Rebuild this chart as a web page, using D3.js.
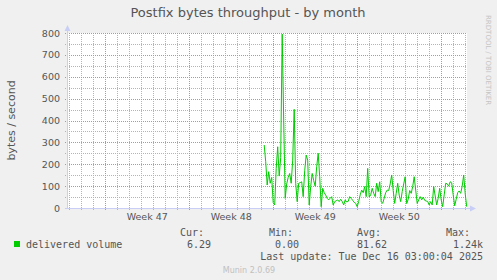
<!DOCTYPE html>
<html>
<head>
<meta charset="utf-8">
<script src="https://cdn.jsdelivr.net/npm/d3@7"></script>
<style>
  body { margin: 0; background: #F0F0F0; }
  svg { display: block; font-family: "DejaVu Sans", sans-serif; }
  .mono { font-family: "DejaVu Sans Mono", monospace; font-size: 10px; fill: #555; }
</style>
</head>
<body>
<div id="chart"></div>
<script>
/* Munin: postfix bytes throughput, month view */

const title = "Postfix bytes throughput - by month";
const yLabel = "bytes / second";

// 3-hour samples starting Nov 30 07:00 UTC
const seriesStart = Date.UTC(2025, 10, 30, 7, 0);
const stepHours = 3;
const delivered = [
  288, 212, 105, 166, 113, 140, 25, 14, 180, 280, 146, 230, 795, 402, 44, 110,
  140, 158, 113, 219, 451, 113, 29, 113, 116, 120, 52, 170, 242, 219, 14, 98,
  158, 125, 100, 189, 250, 143, 6, 90, 70, 59, 44, 37, 45, 52, 14, 29,
  33, 37, 29, 40, 30, 14, 37, 28, 30, 52, 44, 35, 26, 21, 6, 30,
  60, 82, 70, 98, 52, 181, 50, 60, 90, 67, 52, 113, 75, 120, 29, 21,
  45, 70, 82, 80, 110, 151, 80, 21, 67, 113, 59, 29, 75, 110, 143, 20,
  40, 80, 67, 98, 143, 82, 21, 37, 52, 37, 50, 35, 32, 30, 14, 29,
  14, 98, 55, 14, 45, 90, 37, 6, 60, 113, 110, 100, 120, 115, 60, 10,
  40, 70, 78, 67, 100, 151, 67, 6
];

const yMajor = [0, 100, 200, 300, 400, 500, 600, 700, 800];
const yMinor = [50, 150, 250, 350, 450, 550, 650, 750];
const viewStart = new Date(Date.UTC(2025, 10, 13, 20, 36));
const viewEnd = new Date(Date.UTC(2025, 11, 17, 4, 36));
const weekLabels = [Date.UTC(2025, 10, 20, 12), Date.UTC(2025, 10, 27, 12),
                    Date.UTC(2025, 11, 4, 12), Date.UTC(2025, 11, 11, 12)];

const legendName = "delivered volume";
const legendHeads = ["Cur:", "Min:", "Avg:", "Max:"];
const legendVals = ["6.29", "0.00", "81.62", "1.24k"];
const lastUpdate = "Last update: Tue Dec 16 03:00:04 2025";
const footer = "Munin 2.0.69";
const watermark = "RRDTOOL / TOBI OETIKER";

const W = 497, H = 280, M = { l: 67, r: 30, t: 33, b: 72 };
const GREEN = "#00CC00", AXIS = "#C8CEF5", GRID = "#b4b4b4", MGRID = "#e88080", FONT = "#555";

const svg = d3.select("#chart").append("svg").attr("width", W).attr("height", H);
svg.append("rect").attr("width", W).attr("height", H).attr("fill", "#F0F0F0");

const x = d3.scaleUtc().domain([viewStart, viewEnd]).range([M.l, W - M.r]);
const y = d3.scaleLinear().domain([0, 800]).range([H - M.b, M.t]);
const x0 = M.l, x1 = W - M.r, yb = H - M.b, yt = M.t;

svg.append("rect").attr("x", x0).attr("y", yt).attr("width", x1 - x0).attr("height", yb - yt).attr("fill", "#fff");

/* grid: dotted, minor gray per day / 50, major red per week / 100 */
const g = svg.append("g").attr("stroke-dasharray", "1 1").attr("stroke-width", 1);
const days = d3.utcDay.range(viewStart, viewEnd).filter(d => d.getUTCDay() !== 1);
const mondays = d3.utcMonday.range(viewStart, viewEnd);
const px = v => Math.round(v) + 0.5;
g.append("g").selectAll("line").data(days).join("line")
  .attr("x1", d => px(x(d))).attr("x2", d => px(x(d)))
  .attr("y1", yt).attr("y2", yb + 2).attr("stroke", GRID);
g.append("g").selectAll("line").data(yMinor).join("line")
  .attr("x1", x0 - 2).attr("x2", x1).attr("y1", d => px(y(d))).attr("y2", d => px(y(d)))
  .attr("stroke", GRID);
g.append("g").selectAll("line").data(yMajor.slice(1)).join("line")
  .attr("x1", x0 - 2).attr("x2", x1).attr("y1", d => px(y(d))).attr("y2", d => px(y(d)))
  .attr("stroke", MGRID);
g.append("g").selectAll("line").data(mondays).join("line")
  .attr("x1", d => px(x(d))).attr("x2", d => px(x(d)))
  .attr("y1", yt).attr("y2", yb + 3).attr("stroke", MGRID);

/* axes */
const ax = svg.append("g");
ax.append("line").attr("x1", x0 + 0.5).attr("x2", x0 + 0.5).attr("y1", yb).attr("y2", yt - 4).attr("stroke", AXIS);
ax.append("line").attr("x1", x0 - 2).attr("x2", x1 + 4).attr("y1", yb + 0.5).attr("y2", yb + 0.5).attr("stroke", AXIS);
svg.append("path").attr("d", `M${x0 - 2.5},${yt - 2}L${x0 + 0.5},${yt - 8}L${x0 + 3.5},${yt - 2}Z`).attr("fill", AXIS);
svg.append("path").attr("d", `M${x1 + 3},${yb - 2.5}L${x1 + 9},${yb + 0.5}L${x1 + 3},${yb + 3.5}Z`).attr("fill", AXIS);

svg.append("g").attr("transform", `translate(${x0 - 5},0)`)
  .call(d3.axisLeft(y).tickValues(yMajor).tickSize(0).tickPadding(2))
  .call(s => s.select(".domain").remove())
  .selectAll("text").attr("font-size", 9.5).attr("font-family", "DejaVu Sans").attr("fill", FONT);

svg.append("g").attr("transform", `translate(0,${yb + 3})`)
  .call(d3.axisBottom(x).tickValues(weekLabels).tickFormat(d3.utcFormat("Week %V")).tickSize(0).tickPadding(2))
  .call(s => s.select(".domain").remove())
  .selectAll("text").attr("font-size", 9.5).attr("font-family", "DejaVu Sans").attr("fill", FONT);

/* series */
const pts = delivered.map((v, i) => ({ t: seriesStart + i * stepHours * 3600e3, v }));
svg.append("path").attr("d", d3.line().x(d => x(d.t)).y(d => y(d.v))(pts))
  .attr("fill", "none").attr("stroke", GREEN).attr("stroke-width", 1);

/* texts */
svg.append("text").attr("x", 248).attr("y", 17).attr("text-anchor", "middle")
  .attr("font-size", 13).attr("fill", FONT).text(title);
svg.append("text").attr("transform", `translate(15,${(yt + yb) / 2}) rotate(-90)`).attr("text-anchor", "middle")
  .attr("font-size", 11).attr("fill", FONT).text(yLabel);
svg.append("text").attr("transform", "translate(486,15) rotate(90)")
  .attr("font-size", 7).attr("fill", "#c4c4c4").text(watermark);

svg.append("rect").attr("x", 14).attr("y", 241).attr("width", 6).attr("height", 6).attr("fill", GREEN);
svg.append("text").attr("class", "mono").attr("x", 26).attr("y", 248).text(legendName);
const headEnds = [204, 293, 381, 470], valEnds = [211, 299, 387, 483];
svg.selectAll(".lh").data(legendHeads).join("text").attr("class", "mono")
  .attr("x", (d, i) => headEnds[i]).attr("y", 236).attr("text-anchor", "end").text(d => d);
svg.selectAll(".lv").data(legendVals).join("text").attr("class", "mono")
  .attr("x", (d, i) => valEnds[i]).attr("y", 248).attr("text-anchor", "end").text(d => d);
svg.append("text").attr("class", "mono").attr("x", 483).attr("y", 259.5).attr("text-anchor", "end").text(lastUpdate);
svg.append("text").attr("x", 249).attr("y", 272.5).attr("text-anchor", "middle")
  .attr("font-size", 8).attr("fill", "#c0c0c0").text(footer);
</script>
</body>
</html>
